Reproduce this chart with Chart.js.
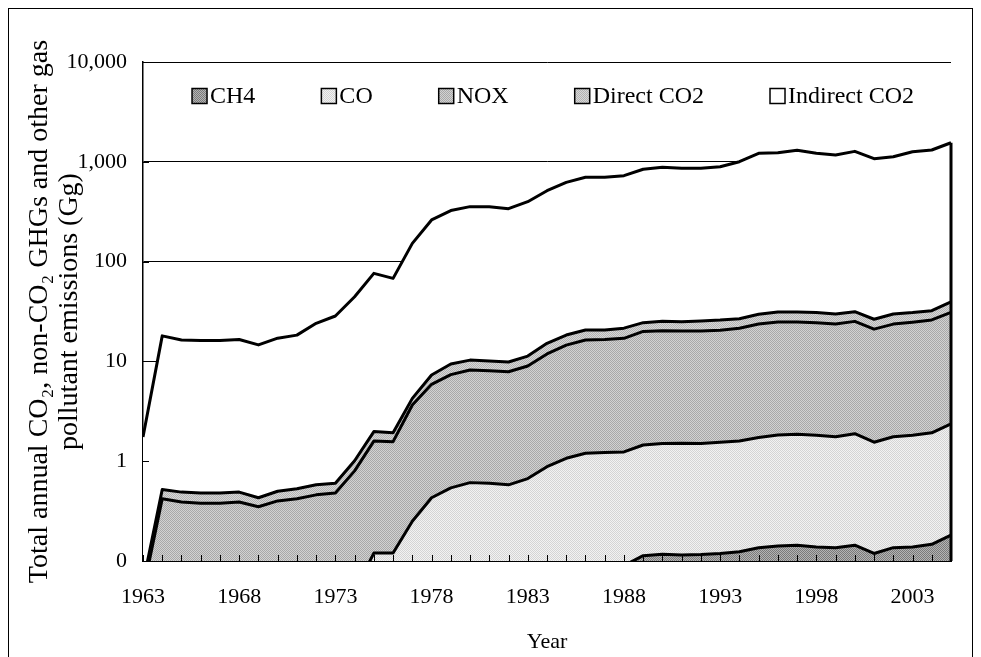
<!DOCTYPE html>
<html>
<head>
<meta charset="utf-8">
<title>Emissions</title>
<script src="https://cdn.jsdelivr.net/npm/chart.js@4.4.0/dist/chart.umd.min.js"></script>
<style>
  html, body { margin: 0; padding: 0; background: #fff; }
  #wrap { position: relative; width: 981px; height: 657px; overflow: hidden; }
  #frame { position: absolute; left: 8px; top: 8px; width: 965px; height: 680px; border: 1px solid #000; box-sizing: border-box; }
  canvas { position: absolute; left: 0; top: 0; }
</style>
</head>
<body>
<div id="wrap">
  <div id="frame"></div>
  <canvas id="chart" width="981" height="657"></canvas>
</div>
<script>
// Years on the category axis
const years = ['1963', '1964', '1965', '1966', '1967', '1968', '1969', '1970', '1971', '1972',
               '1973', '1974', '1975', '1976', '1977', '1978', '1979', '1980', '1981', '1982',
               '1983', '1984', '1985', '1986', '1987', '1988', '1989', '1990', '1991', '1992',
               '1993', '1994', '1995', '1996', '1997', '1998', '1999', '2000', '2001', '2002',
               '2003', '2004', '2005'];

// Emissions per gas (Gg), stacked bottom to top.
// Values under 0.1 sit below the log axis and are only rough estimates.
const ch4 = [0.01, 0.01, 0.01, 0.01, 0.01, 0.01, 0.01, 0.01, 0.01, 0.01,
             0.01, 0.01, 0.01, 0.01, 0.01, 0.01, 0.01, 0.01, 0.01, 0.01,
             0.01, 0.01, 0.01, 0.01, 0.01, 0.09, 0.113, 0.117, 0.115, 0.116,
             0.119, 0.124, 0.136, 0.141, 0.144, 0.138, 0.136, 0.144, 0.119, 0.136,
             0.138, 0.147, 0.182];
const co = [0.01, 0.01, 0.01, 0.01, 0.01, 0.01, 0.01, 0.01, 0.01, 0.01,
            0.01, 0.04, 0.11, 0.11, 0.24, 0.42, 0.53, 0.60, 0.59, 0.57,
            0.66, 0.87, 1.06, 1.19, 1.21, 1.15, 1.34, 1.39, 1.40, 1.39,
            1.43, 1.47, 1.59, 1.69, 1.72, 1.68, 1.62, 1.74, 1.43, 1.62,
            1.68, 1.78, 2.18];
const nox = [0.03, 0.40, 0.37, 0.36, 0.36, 0.37, 0.33, 0.38, 0.40, 0.44,
             0.46, 0.75, 1.47, 1.45, 3.41, 5.46, 6.83, 7.59, 7.47, 7.30,
             8.33, 11.0, 13.5, 15.2, 15.4, 15.8, 18.5, 18.8, 18.7, 18.7,
             19.0, 19.9, 22.0, 23.0, 22.9, 22.6, 21.9, 23.3, 19.5, 21.9,
             22.9, 24.1, 28.6];
const directCO2 = [0.01, 0.10, 0.10, 0.10, 0.10, 0.10, 0.08, 0.10, 0.11, 0.12,
                   0.12, 0.21, 0.39, 0.36, 0.6, 1.42, 2.06, 2.1, 2.03, 1.98,
                   2.3, 3.3, 3.8, 4.2, 4.0, 4.5, 4.5, 4.9, 4.8, 5.2,
                   5.4, 5.3, 6.0, 6.5, 6.5, 6.4, 6.2, 6.3, 5.4, 6.2,
                   6.1, 6.2, 8.6];
const indirectCO2 = [1.69, 17.5, 15.9, 15.7, 15.7, 16.1, 14.2, 16.6, 17.8, 23.5,
                     27.9, 43.5, 74.3, 66, 148, 254, 315, 345, 345, 329,
                     387, 498, 604, 679, 679, 705, 818, 856, 836, 836,
                     867, 976, 1186, 1202, 1272, 1185, 1139, 1241, 1048, 1095,
                     1231, 1280, 1512];

const seriesNames = ['CH4', 'CO', 'NOX', 'Direct CO2', 'Indirect CO2'];
const yTicks = [0.1, 1, 10, 100, 1000, 10000];

const FONT = "'Liberation Serif', 'Times New Roman', serif";

// small stipple textures for the area fills
function stipple(dark, light) {
    const c = document.createElement('canvas');
    c.width = 2;
    c.height = 2;
    const g = c.getContext('2d');
    g.fillStyle = light;
    g.fillRect(0, 0, 2, 2);
    g.fillStyle = dark;
    g.fillRect(0, 0, 1, 1);
    g.fillRect(1, 1, 1, 1);
    return g.createPattern(c, 'repeat');
}

const fills = [
    stipple('#7a7a7a', '#b4b4b4'),
    stipple('#d4d4d4', '#f2f2f2'),
    stipple('#a8a8a8', '#d2d2d2'),
    stipple('#b2b2b2', '#d8d8d8'),
    '#ffffff'
];

const values = [ch4, co, nox, directCO2, indirectCO2];

const datasets = values.map((data, i) => ({
    label: seriesNames[i],
    data: data,
    backgroundColor: fills[i],
    borderColor: '#000',
    borderWidth: 3,
    borderJoinStyle: 'round',
    fill: i === 0 ? 'origin' : '-1',
    pointRadius: 0,
    tension: 0,
    clip: { left: 0, top: 5, right: 5, bottom: 0 }
}));

// inner tick marks, closing edge of the last year, and the legend
const decor = {
    id: 'decor',
    afterDatasetsDraw(chart) {
        const { ctx, chartArea: a, scales: { x, y } } = chart;
        ctx.save();
        ctx.strokeStyle = '#000';
        ctx.lineWidth = 1;
        years.forEach((_, i) => {
            const px = Math.round(x.getPixelForValue(i)) + 0.5;
            ctx.beginPath();
            ctx.moveTo(px, a.bottom);
            ctx.lineTo(px, a.bottom - 6);
            ctx.stroke();
        });
        yTicks.forEach(v => {
            const py = Math.round(y.getPixelForValue(v)) + 0.5;
            ctx.beginPath();
            ctx.moveTo(a.left, py);
            ctx.lineTo(a.left + 6, py);
            ctx.stroke();
        });

        const top = chart.getDatasetMeta(values.length - 1).data[years.length - 1];
        ctx.lineWidth = 3;
        ctx.beginPath();
        ctx.moveTo(top.x, top.y);
        ctx.lineTo(top.x, a.bottom);
        ctx.stroke();
        ctx.restore();
    },
    afterDraw(chart) {
        const { ctx, chartArea: a } = chart;
        const box = 15, gapText = 3, gapItem = 66;
        ctx.save();
        ctx.font = '24px ' + FONT;
        ctx.textBaseline = 'middle';
        ctx.fillStyle = '#000';
        const widths = seriesNames.map(n => ctx.measureText(n).width);
        const total = widths.reduce((s, w) => s + box + gapText + w, 0) + gapItem * (seriesNames.length - 1);
        let px = (a.left + a.right) / 2 + 6 - total / 2;
        const cy = a.top + 34;
        seriesNames.forEach((n, i) => {
            ctx.fillStyle = fills[i];
            ctx.fillRect(px, cy - box / 2, box, box);
            ctx.strokeStyle = '#000';
            ctx.lineWidth = 1.5;
            ctx.strokeRect(px, cy - box / 2, box, box);
            ctx.fillStyle = '#000';
            ctx.fillText(n, px + box + gapText, cy + 1);
            px += box + gapText + widths[i] + gapItem;
        });
        ctx.restore();
    }
};

Chart.defaults.font.family = FONT;
Chart.defaults.color = '#000';

new Chart(document.getElementById('chart'), {
    type: 'line',
    data: { labels: years, datasets: datasets },
    options: {
        responsive: false,
        animation: false,
        devicePixelRatio: 1,
        layout: { padding: { left: 0, right: 30, top: 62, bottom: 0 } },
        plugins: {
            legend: { display: false },
            tooltip: { enabled: false }
        },
        scales: {
            x: {
                type: 'category',
                offset: false,
                afterFit: s => { s.height = 96; },
                grid: { display: true, drawOnChartArea: false, drawTicks: false },
                border: { display: true, color: '#000', width: 2 },
                ticks: {
                    autoSkip: false,
                    maxRotation: 0,
                    padding: 23,
                    font: { size: 22 },
                    color: '#000',
                    callback: (v, i) => (i % 5 === 0 ? years[i] : '')
                },
                title: {
                    display: true,
                    text: 'Year',
                    font: { size: 22 },
                    padding: { top: 0, bottom: 2 },
                    color: '#000'
                }
            },
            y: {
                type: 'logarithmic',
                stacked: true,
                min: 0.1,
                max: 10000,
                afterFit: s => { s.width = 143; },
                afterBuildTicks: s => { s.ticks = yTicks.map(v => ({ value: v })); },
                grid: { color: '#000', lineWidth: 1, drawTicks: false },
                border: { display: true, color: '#000', width: 1.5 },
                ticks: {
                    padding: 16,
                    font: { size: 22 },
                    color: '#000',
                    callback: v => (v < 1 ? '0' : Number(v).toLocaleString('en-US'))
                },
                title: {
                    display: true,
                    text: ['Total annual CO\u2082, non-CO\u2082 GHGs and other gas', 'pollutant emissions (Gg)'],
                    font: { size: 28, lineHeight: 1.07 },
                    padding: { top: 25, bottom: 0 },
                    color: '#000'
                }
            }
        }
    },
    plugins: [decor]
});
</script>
</body>
</html>
